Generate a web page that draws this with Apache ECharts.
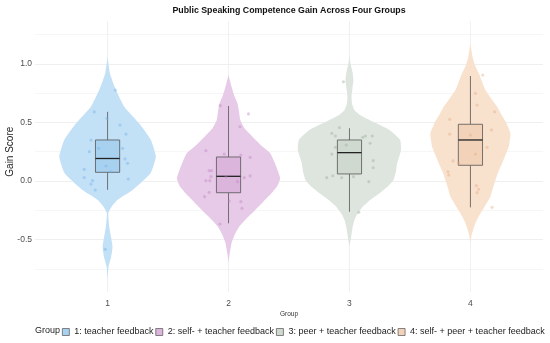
<!DOCTYPE html>
<html>
<head>
<meta charset="utf-8">
<script src="https://cdn.jsdelivr.net/npm/echarts@6/dist/echarts.min.js"></script>
<style>
html,body{margin:0;padding:0;background:#fff;}
#chart{width:550px;height:343px;}
</style>
</head>
<body>
<div id="chart"></div>
<script>
// ---------------- data ----------------
const categories = ['1', '2', '3', '4'];
const groupNames = ['1: teacher feedback', '2: self- + teacher feedback', '3: peer + teacher feedback', '4: self- + peer + teacher feedback'];
const yTicks = [-0.5, 0.0, 0.5, 1.0];

// violin outlines: gain levels (top to bottom) and half-width (fraction of one group slot)
const violinY1 = [1.06, 0.92, 0.776, 0.634, 0.49, 0.35, 0.207, 0.066, -0.077, -0.16, -0.22, -0.276, -0.39, -0.48, -0.56, -0.65, -0.73, -0.845];
const violinW1 = [0, 0.019, 0.069, 0.138, 0.262, 0.358, 0.399, 0.355, 0.207, 0.083, 0.033, 0.006, 0.014, 0.029, 0.041, 0.029, 0.008, 0];
const violinY2 = [0.905, 0.805, 0.72, 0.663, 0.59, 0.52, 0.45, 0.378, 0.30, 0.236, 0.16, 0.094, 0.023, -0.04, -0.105, -0.175, -0.247, -0.32, -0.39, -0.46, -0.53, -0.646, -0.70];
const violinW2 = [0, 0.025, 0.05, 0.074, 0.087, 0.097, 0.132, 0.198, 0.273, 0.345, 0.38, 0.405, 0.427, 0.405, 0.355, 0.289, 0.221, 0.149, 0.088, 0.05, 0.025, 0.006, 0];
const violinY3 = [1.075, 1.004, 0.93, 0.862, 0.79, 0.72, 0.66, 0.606, 0.56, 0.52, 0.435, 0.35, 0.265, 0.20, 0.151, 0.08, 0.0085, -0.05, -0.105, -0.16, -0.219, -0.28, -0.333, -0.40, -0.475, -0.56];
const violinW3 = [0, 0.008, 0.025, 0.033, 0.025, 0.017, 0.021, 0.041, 0.091, 0.165, 0.331, 0.419, 0.427, 0.409, 0.394, 0.384, 0.364, 0.314, 0.248, 0.174, 0.11, 0.066, 0.041, 0.025, 0.014, 0];
const violinY4 = [1.175, 1.06, 0.99, 0.919, 0.85, 0.776, 0.70, 0.634, 0.56, 0.492, 0.407, 0.35, 0.293, 0.22, 0.151, 0.08, 0.0085, -0.06, -0.134, -0.2, -0.276, -0.35, -0.418, -0.47, -0.53];
const violinW4 = [0, 0.017, 0.037, 0.069, 0.095, 0.124, 0.174, 0.221, 0.26, 0.298, 0.331, 0.326, 0.317, 0.289, 0.262, 0.231, 0.207, 0.186, 0.165, 0.128, 0.083, 0.045, 0.022, 0.008, 0];

// box plot statistics
const whiskerLow  = [-0.075, -0.361, -0.262, -0.225];
const quart1      = [0.074, -0.100, 0.060, 0.134];
const medians     = [0.192, 0.040, 0.242, 0.350];
const quart3      = [0.350, 0.205, 0.350, 0.484];
const whiskerHigh = [0.590, 0.640, 0.450, 0.896];

// jittered observations: gain value and horizontal jitter (fraction of group slot)
const pointsY1 = [0.776, 0.59, 0.535, 0.478, 0.40, 0.35, 0.279, 0.279, 0.25, 0.188, 0.151, 0.128, 0.10, 0.03, 0.017, 0.003, -0.026, -0.077, -0.583, 0.079];
const pointsJ1 = [0.064, -0.11, -0.005, 0.102, 0.152, -0.137, -0.074, 0.124, -0.151, 0.144, 0.165, -0.013, -0.193, -0.193, 0.171, -0.124, -0.137, -0.102, -0.019, 0.028];
const pointsY2 = [0.643, 0.572, 0.463, 0.259, 0.23, 0.222, 0.202, 0.088, 0.088, 0.037, 0.003, 0.003, 0.037, 0.028, 0.043, -0.006, -0.097, -0.134, -0.171, -0.176, -0.233, -0.367];
const pointsJ2 = [-0.069, 0.165, 0.094, -0.187, -0.036, 0.102, 0.179, -0.16, -0.14, -0.145, -0.187, -0.154, -0.021, 0.13, 0.179, 0.074, -0.16, -0.198, 0.006, 0.102, 0.111, -0.071];
const pointsY3 = [0.847, 0.455, 0.407, 0.384, 0.384, 0.384, 0.373, 0.322, 0.307, 0.287, 0.23, 0.173, 0.113, 0.028, 0.045, 0.028, 0.037, -0.006, -0.267];
const pointsJ3 = [-0.05, -0.083, -0.146, -0.116, 0.132, 0.188, 0.11, 0.171, -0.027, -0.116, -0.146, 0.196, 0.196, -0.188, -0.138, -0.064, 0.033, 0.16, 0.077];
const pointsY4 = [0.904, 0.748, 0.648, 0.591, 0.526, 0.435, 0.40, 0.392, 0.287, 0.23, 0.171, 0.151, 0.079, 0.051, -0.04, -0.071, -0.10, -0.225];
const pointsJ4 = [0.102, 0.041, 0.055, 0.2, -0.171, 0.174, -0.171, 0, 0.137, 0.041, -0.144, -0.097, -0.185, -0.179, 0.049, 0.068, 0.055, 0.179];

// panel extent (value range drawn by the plotting panel)
const panelY = [-0.947, 1.365];

// ---------------- styling ----------------
const violinFill = ['#c2e0f6', '#e6cae7', '#dee5de', '#f8e1cd'];
const boxFill    = ['#a8d1f0', '#dbb5dc', '#cfd9cf', '#f2d3b9'];
const pointCol   = ['rgba(110,175,230,0.5)', 'rgba(190,130,195,0.5)', 'rgba(160,175,160,0.55)', 'rgba(225,170,130,0.5)'];

const violinYs = [violinY1, violinY2, violinY3, violinY4];
const violinWs = [violinW1, violinW2, violinW3, violinW4];
const pointsYs = [pointsY1, pointsY2, pointsY3, pointsY4];
const pointsJs = [pointsJ1, pointsJ2, pointsJ3, pointsJ4];

const chart = echarts.init(document.getElementById('chart'), null, {renderer: 'canvas'});

function gridRender(params, api) {
  const pos = api.value(0);
  const a = api.coord([pos, panelY[1]]);
  const b = api.coord([pos, panelY[0]]);
  return {type: 'line', shape: {x1: a[0], y1: a[1], x2: b[0], y2: b[1]},
          style: {stroke: '#ececec', lineWidth: 0.8}, silent: true};
}

function makeViolin(gi) {
  return function (params, api) {
    const pos = gi + 1;
    const bw = api.size([1, 0])[0];
    const ys = violinYs[gi], ws = violinWs[gi];
    const right = [], left = [];
    for (let k = 0; k < ys.length; k++) {
      const p = api.coord([pos, ys[k]]);
      right.push([p[0] + ws[k] * bw, p[1]]);
      left.push([p[0] - ws[k] * bw, p[1]]);
    }
    const pts = right.concat(left.reverse());
    const cx = api.coord([pos, 0])[0];
    const half = 0.1 * bw;
    const yq1 = api.coord([pos, quart1[gi]])[1];
    const yq3 = api.coord([pos, quart3[gi]])[1];
    const ymed = api.coord([pos, medians[gi]])[1];
    const ylo = api.coord([pos, whiskerLow[gi]])[1];
    const yhi = api.coord([pos, whiskerHigh[gi]])[1];
    return {
      type: 'group',
      children: [
        {type: 'polygon', shape: {points: pts, smooth: 0.15}, style: {fill: violinFill[gi], stroke: null}},
        {type: 'line', shape: {x1: cx, y1: yhi, x2: cx, y2: yq3}, style: {stroke: '#555', lineWidth: 0.8}},
        {type: 'line', shape: {x1: cx, y1: yq1, x2: cx, y2: ylo}, style: {stroke: '#555', lineWidth: 0.8}},
        {type: 'rect', shape: {x: cx - half, y: yq3, width: 2 * half, height: yq1 - yq3},
         style: {fill: boxFill[gi], stroke: '#555', lineWidth: 0.8}},
        {type: 'line', shape: {x1: cx - half, y1: ymed, x2: cx + half, y2: ymed}, style: {stroke: '#222', lineWidth: 1.3}}
      ]
    };
  };
}

const series = [{
  type: 'custom',
  name: '_grid',
  silent: true,
  z: 0,
  renderItem: gridRender,
  data: categories.map((c, i) => [i + 1]),
  encode: {x: 0}
}];

for (let g = 0; g < 4; g++) {
  series.push({
    type: 'custom',
    name: groupNames[g],
    z: 2,
    itemStyle: {color: boxFill[g]},
    renderItem: makeViolin(g),
    data: [[g + 1, medians[g]]],
    encode: {x: 0, y: 1}
  });
}
for (let g = 0; g < 4; g++) {
  series.push({
    type: 'scatter',
    name: groupNames[g],
    z: 5,
    symbolSize: 3.2,
    itemStyle: {color: pointCol[g]},
    data: pointsYs[g].map((v, k) => [g + 1 + pointsJs[g][k], v])
  });
}

const option = {
  animation: false,
  backgroundColor: '#ffffff',
  title: {
    text: 'Public Speaking Competence Gain Across Four Groups',
    left: 289, textAlign: 'center', top: 6, padding: 0,
    textStyle: {fontFamily: 'Liberation Sans', fontSize: 8.8, fontWeight: 'bold', color: '#111'}
  },
  grid: {left: 35, right: 7, top: 5.2, bottom: 44.8, containLabel: false, outerBoundsMode: 'none'},
  xAxis: {
    type: 'value', min: 0.4, max: 4.6,
    name: 'Group', nameLocation: 'middle', nameGap: 13, nameMoveOverlap: false,
    nameTextStyle: {fontFamily: 'Liberation Sans', fontSize: 6.5, color: '#333'},
    axisLine: {show: false}, axisTick: {show: false},
    splitLine: {show: false},
    axisLabel: {
      customValues: [1, 2, 3, 4],
      formatter: v => categories[Math.round(v) - 1],
      fontFamily: 'Liberation Sans', fontSize: 8.5, color: '#4d4d4d', margin: 1
    }
  },
  yAxis: {
    type: 'value', min: -1, max: 1.5, interval: 0.5,
    name: 'Gain Score', nameLocation: 'middle', nameGap: 20, nameRotate: 90, nameMoveOverlap: false,
    nameTextStyle: {fontFamily: 'Liberation Sans', fontSize: 10, color: '#222'},
    axisLine: {show: false}, axisTick: {show: false},
    axisLabel: {
      showMinLabel: false, showMaxLabel: false,
      formatter: v => (yTicks.indexOf(v) >= 0 ? v.toFixed(1) : ''),
      fontFamily: 'Liberation Sans', fontSize: 8.5, color: '#4d4d4d', margin: 3
    },
    splitLine: {show: true, showMinLine: false, showMaxLine: false, lineStyle: {color: '#ebebeb', width: 0.8}},
    minorTick: {show: false, splitNumber: 2},
    minorSplitLine: {show: true, lineStyle: {color: '#f4f4f4', width: 0.8}}
  },
  legend: {
    data: groupNames,
    left: 62, top: 327.5, padding: 0, width: 500,
    icon: 'rect', itemWidth: 7, itemHeight: 7, itemGap: 2,
    itemStyle: {borderColor: '#555', borderWidth: 0.7},
    textStyle: {fontFamily: 'Liberation Sans', fontSize: 9, color: '#222'},
    selectedMode: false
  },
  graphic: [{
    type: 'text', left: 35, top: 326.3,
    style: {text: 'Group', font: '9px "Liberation Sans"', fill: '#222'}
  }],
  series: series
};
chart.setOption(option);
</script>
</body>
</html>
